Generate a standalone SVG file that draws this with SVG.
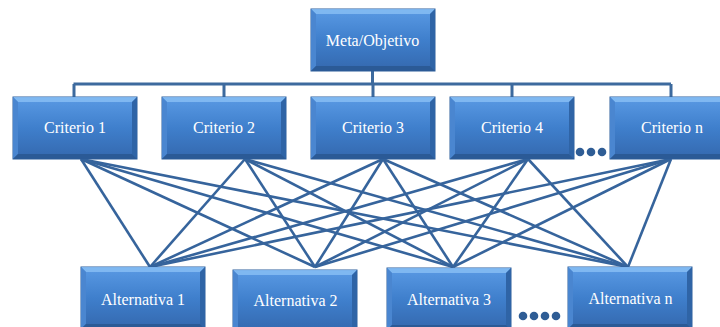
<svg xmlns="http://www.w3.org/2000/svg" xmlns:xlink="http://www.w3.org/1999/xlink" width="720" height="327" viewBox="0 0 720 327">
<style>
.lbl{font-family:"Liberation Serif","Times New Roman",serif;font-size:16px;fill:#ffffff;text-anchor:middle}
.tree{fill:none;stroke:#3d6a9e;stroke-width:3}
.link{stroke:#36649c;stroke-width:2.6;fill:none}
.dot{fill:#2f5d95}
</style>
<defs>
<linearGradient id="g" x1="0" y1="0" x2="0" y2="1">
<stop offset="0" stop-color="#5a9ae4"/>
<stop offset="0.5" stop-color="#3f7fcc"/>
<stop offset="1" stop-color="#3468ae"/>
</linearGradient>
<g id="box">
<rect x="0" y="0" width="124" height="62" fill="url(#g)" stroke="#2d5f9c" stroke-width="1"/>
<polygon points="0,0 124,0 119,5 5,5" fill="#86bdf3" opacity="0.85"/>
<polygon points="0,0 5,5 5,57 0,62" fill="#4a86d0"/>
<polygon points="124,0 119,5 119,57 124,62" fill="#2f64a6"/>
<polygon points="0,62 5,57 119,57 124,62" fill="#2b5a96"/>
</g>
</defs>
<rect width="720" height="327" fill="#ffffff"/>
<g id="connectors">
<path class="tree" d="M372.5,71 V84 M73.5,84 H671 M74,84 V97 M224,84 V97 M373,84 V97 M512,84 V97 M671,84 V97"/>
<g class="link">
<line x1="81" y1="159" x2="150" y2="267"/>
<line x1="81" y1="159" x2="315" y2="267"/>
<line x1="81" y1="159" x2="453" y2="267"/>
<line x1="81" y1="159" x2="628" y2="267"/>
<line x1="245" y1="159" x2="150" y2="267"/>
<line x1="245" y1="159" x2="315" y2="267"/>
<line x1="245" y1="159" x2="453" y2="267"/>
<line x1="245" y1="159" x2="628" y2="267"/>
<line x1="383" y1="159" x2="150" y2="267"/>
<line x1="383" y1="159" x2="315" y2="267"/>
<line x1="383" y1="159" x2="453" y2="267"/>
<line x1="383" y1="159" x2="628" y2="267"/>
<line x1="528" y1="159" x2="150" y2="267"/>
<line x1="528" y1="159" x2="315" y2="267"/>
<line x1="528" y1="159" x2="453" y2="267"/>
<line x1="528" y1="159" x2="628" y2="267"/>
<line x1="671" y1="159" x2="150" y2="267"/>
<line x1="671" y1="159" x2="315" y2="267"/>
<line x1="671" y1="159" x2="453" y2="267"/>
<line x1="671" y1="159" x2="628" y2="267"/>
</g>
</g>
<g id="meta"><use href="#box" x="311" y="9"/><text class="lbl" x="372.5" y="46">Meta/Objetivo</text></g>
<g id="criterio1"><use href="#box" x="13" y="97"/><text class="lbl" x="75" y="133">Criterio 1</text></g>
<g id="criterio2"><use href="#box" x="162" y="97"/><text class="lbl" x="224" y="133">Criterio 2</text></g>
<g id="criterio3"><use href="#box" x="311" y="97"/><text class="lbl" x="373" y="133">Criterio 3</text></g>
<g id="criterio4"><use href="#box" x="450" y="97"/><text class="lbl" x="512" y="133">Criterio 4</text></g>
<g id="criterion"><use href="#box" x="610" y="97"/><text class="lbl" x="672" y="133">Criterio n</text></g>
<g id="dots-top"><circle class="dot" cx="580" cy="152" r="4.3"/><circle class="dot" cx="591" cy="152" r="4.3"/><circle class="dot" cx="602" cy="152" r="4.3"/></g>
<g id="alt1"><use href="#box" x="81" y="267"/><text class="lbl" x="143" y="305">Alternativa 1</text></g>
<g id="alt2"><use href="#box" x="233" y="270"/><text class="lbl" x="295.5" y="306">Alternativa 2</text></g>
<g id="alt3"><use href="#box" x="387" y="268"/><text class="lbl" x="449" y="305">Alternativa 3</text></g>
<g id="altn"><use href="#box" x="568" y="267"/><text class="lbl" x="630.5" y="304">Alternativa n</text></g>
<g id="dots-bottom"><circle class="dot" cx="523" cy="316" r="4.3"/><circle class="dot" cx="534" cy="316" r="4.3"/><circle class="dot" cx="545" cy="316" r="4.3"/><circle class="dot" cx="556" cy="316" r="4.3"/></g>
</svg>
